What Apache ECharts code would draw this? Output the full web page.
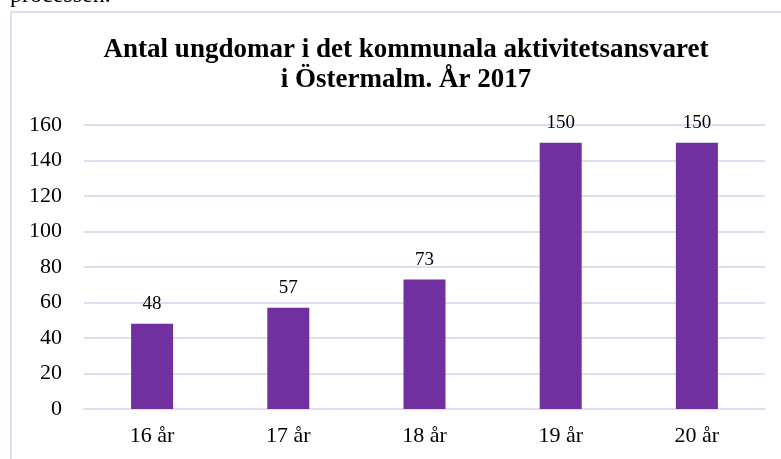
<!DOCTYPE html>
<html>
<head>
<meta charset="utf-8">
<script src="https://cdn.jsdelivr.net/npm/echarts@6/dist/echarts.min.js"></script>
<style>
  html, body { margin: 0; padding: 0; background: #fff; }
  #chart { width: 781px; height: 459px; }
</style>
</head>
<body>
<div id="chart"></div>
<script>
// Ungdomar i det kommunala aktivitetsansvaret, Östermalm 2017
const categories = ['16 år', '17 år', '18 år', '19 år', '20 år'];
const antal = [48, 57, 73, 150, 150];
const yTicks = { min: 0, max: 160, interval: 20 };

const serif = '"Liberation Serif", "Times New Roman", serif';
const lavender = '#E6DAF0';
const chart = echarts.init(document.getElementById('chart'), null, { renderer: 'canvas' });

chart.setOption({
  backgroundColor: '#ffffff',
  animation: false,
  title: {
    text: 'Antal ungdomar i det kommunala aktivitetsansvaret\ni Östermalm. År 2017',
    left: 401,
    textAlign: 'center',
    top: 30,
    textStyle: {
      fontFamily: serif,
      fontWeight: 'bold',
      fontSize: 27,
      lineHeight: 30,
      color: '#000'
    }
  },
  graphic: [
    {
      type: 'text',
      left: 10,
      top: -16,
      style: { text: 'processen.', font: '24px ' + serif, fill: '#000' }
    },
    {
      type: 'rect',
      shape: { x: 11, y: 12, width: 800, height: 500 },
      style: { fill: 'none', stroke: lavender, lineWidth: 2 }
    }
  ],
  grid: { left: 84, right: 16, top: 125, bottom: 50 },
  xAxis: {
    type: 'category',
    data: categories,
    axisLine: { show: true, lineStyle: { color: lavender, width: 2 } },
    axisTick: { show: false },
    axisLabel: { fontFamily: serif, fontSize: 22, color: '#000', margin: 16 }
  },
  yAxis: {
    type: 'value',
    min: yTicks.min,
    max: yTicks.max,
    interval: yTicks.interval,
    axisLine: { show: false },
    axisTick: { show: false },
    splitLine: { lineStyle: { color: lavender, width: 2 } },
    axisLabel: { fontFamily: serif, fontSize: 22, color: '#000', margin: 22 }
  },
  series: [{
    type: 'bar',
    data: antal,
    barWidth: 42,
    itemStyle: { color: '#7030A0' },
    label: {
      show: true,
      position: 'top',
      distance: 10,
      fontFamily: serif,
      fontSize: 19,
      color: '#000'
    }
  }]
});
</script>
</body>
</html>
